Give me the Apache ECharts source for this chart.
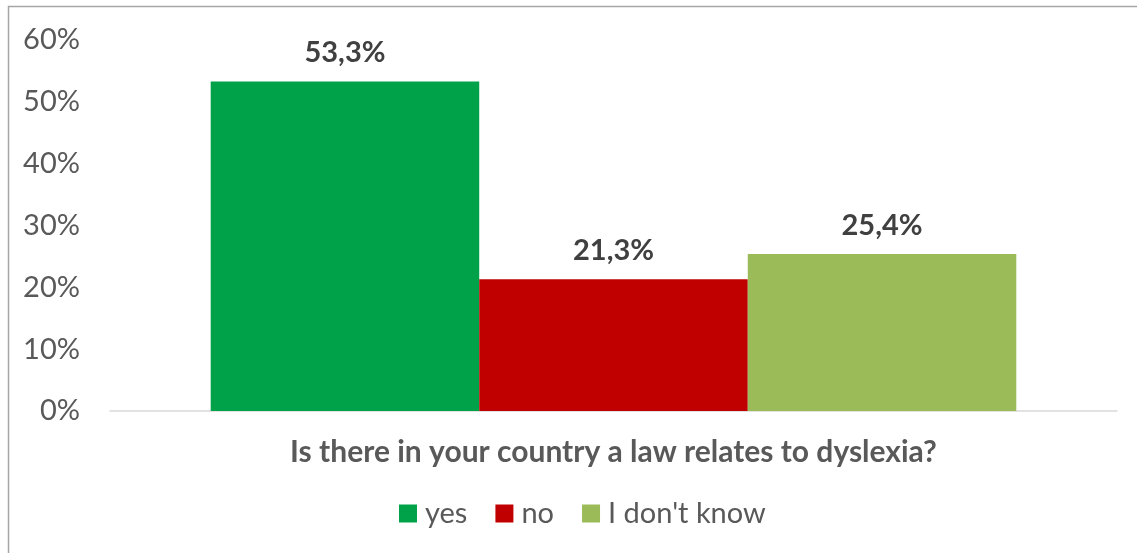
<!DOCTYPE html>
<html>
<head>
<meta charset="utf-8">
<style>
  html, body { margin: 0; padding: 0; background: #fff; }
  #chart { width: 1137px; height: 553px; }
</style>
<script src="https://cdn.jsdelivr.net/npm/echarts@6/dist/echarts.min.js"></script>
</head>
<body>
<div id="chart"></div>
<script>
// Survey answers, percent of respondents
const categories = ['Is there in your country a law relates to dyslexia?'];
const seriesNames = ['yes', 'no', "I don't know"];
const seriesValues = [[53.3], [21.3], [25.4]];
const seriesColors = ['#00A249', '#C00000', '#9BBB59'];
const yTicks = [0, 10, 20, 30, 40, 50, 60];

const FONT = 'Lato, "Open Sans", sans-serif';

const chart = echarts.init(document.getElementById('chart'));

chart.setOption({
  animation: false,
  textStyle: { fontFamily: FONT },
  graphic: [{
    type: 'rect',
    shape: { x: 8.5, y: 6.5, width: 1200, height: 600 },
    style: { fill: 'none', stroke: '#A6A6A6', lineWidth: 1.5 },
    silent: true
  }],
  grid: { left: 110, right: 20, top: 40, bottom: 142 },
  legend: {
    top: 499,
    left: 399,
    itemWidth: 18,
    itemHeight: 18,
    itemGap: 28,
    icon: 'rect',
    padding: 0,
    textStyle: { fontSize: 29, color: '#595959', fontFamily: FONT, padding: [0, 0, 0, 3] },
    data: seriesNames
  },
  xAxis: {
    type: 'category',
    data: [''],
    name: categories[0],
    nameLocation: 'middle',
    nameGap: 26,
    nameTextStyle: { fontSize: 30, fontWeight: 'bold', color: '#595959', fontFamily: FONT },
    axisLine: { lineStyle: { color: '#D9D9D9', width: 1.5 } },
    axisTick: { show: false },
    axisLabel: { show: false }
  },
  yAxis: {
    type: 'value',
    min: yTicks[0],
    max: yTicks[yTicks.length - 1],
    interval: 10,
    splitLine: { show: false },
    axisLine: { show: false },
    axisTick: { show: false },
    axisLabel: {
      formatter: v => v + '%',
      fontSize: 29,
      color: '#595959',
      margin: 30,
      fontFamily: FONT
    }
  },
  series: seriesNames.map((name, i) => ({
    name,
    type: 'bar',
    data: seriesValues[i],
    barGap: '0%',
    barCategoryGap: '20%',
    itemStyle: { color: seriesColors[i] },
    label: {
      show: true,
      position: 'top',
      distance: 14,
      formatter: p => p.value.toFixed(1).replace('.', ',') + '%',
      fontSize: 29,
      fontWeight: 'bold',
      color: '#404040',
      fontFamily: FONT
    }
  }))
});
</script>
</body>
</html>
